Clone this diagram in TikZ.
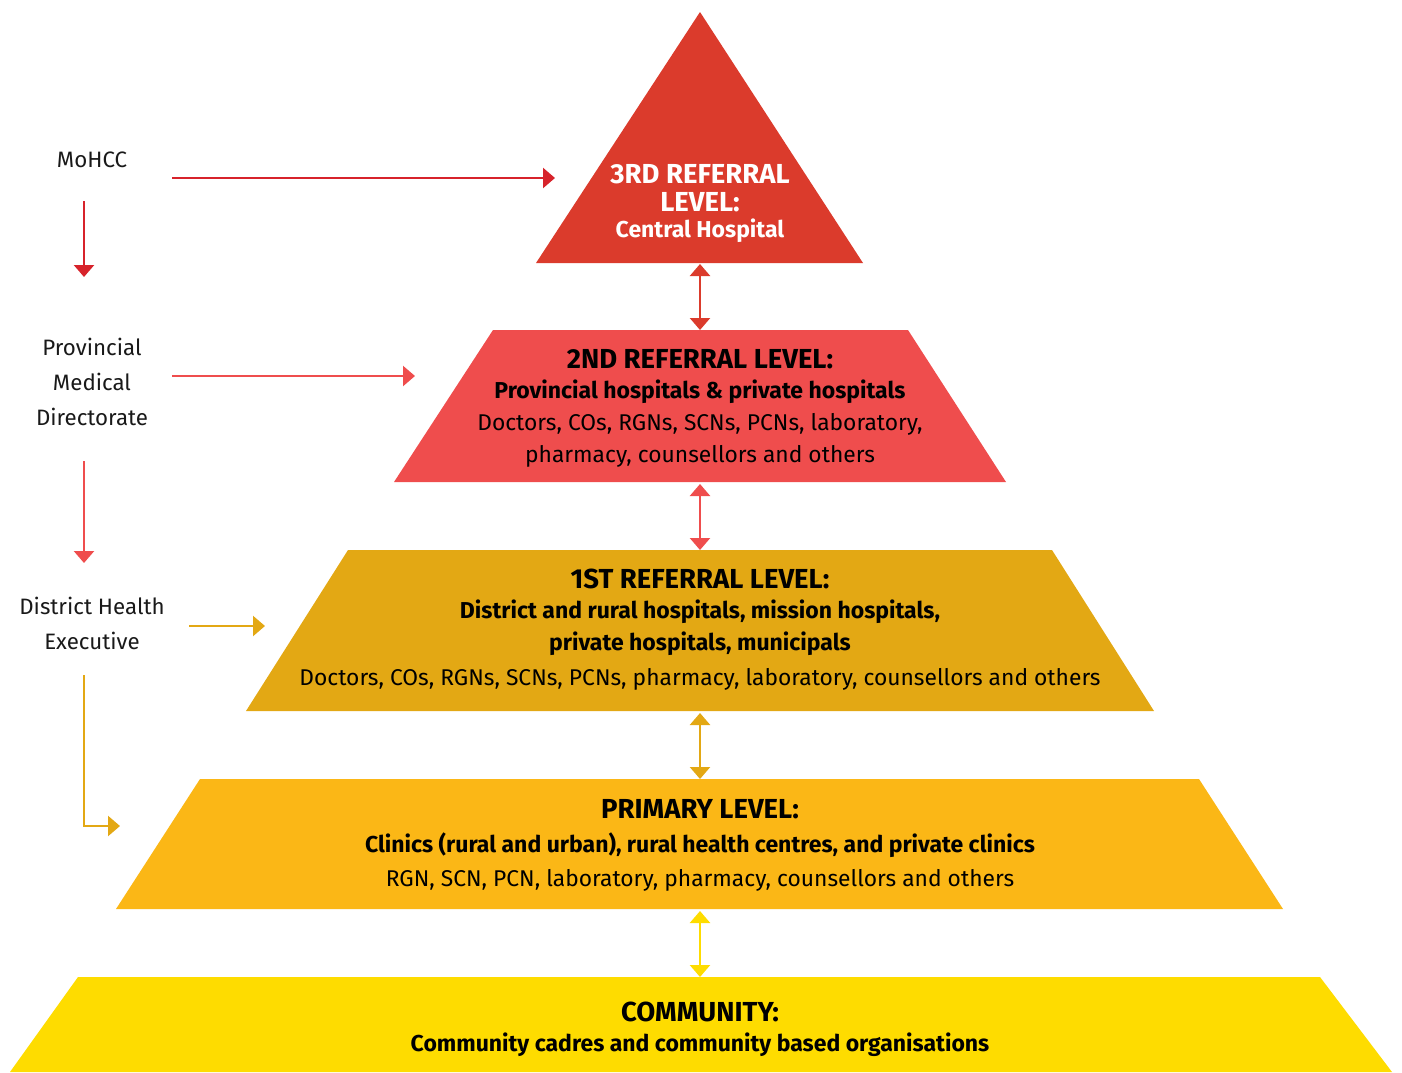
\documentclass[tikz,border=0pt]{standalone}
\usepackage{fontspec}
\setmainfont{Fira Sans}
\usetikzlibrary{arrows.meta}
\definecolor{cThree}{HTML}{DB3B2C}
\definecolor{cTwo}{HTML}{EF4D4D}
\definecolor{cOne}{HTML}{E3A814}
\definecolor{cPrim}{HTML}{FBB716}
\definecolor{cComm}{HTML}{FEDC00}
\definecolor{cArrRed}{HTML}{D7232B}
\tikzset{
  lvl/.style={inner sep=0pt, anchor=center},
  ttl/.style={lvl, font=\fontsize{27.5}{30}\selectfont\bfseries},
  bld/.style={lvl, font=\fontsize{23}{26}\selectfont\bfseries},
  reg/.style={lvl, font=\fontsize{22.8}{26}\selectfont},
  side/.style={lvl, font=\fontsize{22.3}{26}\selectfont, text=black!90},
  arr/.style={line width=2.4pt, -{Triangle[width=20pt,length=12pt]}},
  darr/.style={line width=2.4pt, {Triangle[width=20pt,length=12pt]}-{Triangle[width=20pt,length=12pt]}},
}
\begin{document}
\begin{tikzpicture}[x=1pt,y=-1pt]
\useasboundingbox (0,0) rectangle (1402,1072);
% levels
\fill[cThree] (700,12) -- (863,263) -- (536,263) -- cycle;
\fill[cTwo] (493,330) -- (908,330) -- (1006,482) -- (394,482) -- cycle;
\fill[cOne] (348,550) -- (1052,550) -- (1154,711) -- (246,711) -- cycle;
\fill[cPrim] (200,779) -- (1199,779) -- (1283,909) -- (116,909) -- cycle;
\fill[cComm] (78,977) -- (1320,977) -- (1392,1072) -- (10,1072) -- cycle;
% level anchors
\coordinate (L3b) at (700,264);
\coordinate (L2t) at (700,330);
\coordinate (L2b) at (700,484);
\coordinate (L1t) at (700,550);
\coordinate (L1b) at (700,713);
\coordinate (LPt) at (700,779);
\coordinate (LPb) at (700,911);
\coordinate (LCt) at (700,977);
% texts
\node[ttl, text=white] (t3a) at (700,174) {3RD REFERRAL};
\node[ttl, text=white] (t3b) at (700,202) {LEVEL:};
\node[bld, text=white] (t3c) at (700,231) {Central Hospital};
\node[ttl] (t2a) at (700,359) {2ND REFERRAL LEVEL:};
\node[bld] (t2b) at (700,392) {Provincial hospitals \& private hospitals};
\node[reg] (t2c) at (700,424) {Doctors, COs, RGNs, SCNs, PCNs, laboratory,};
\node[reg] (t2d) at (700,456) {pharmacy, counsellors and others};
\node[ttl] (t1a) at (700,579) {1ST REFERRAL LEVEL:};
\node[bld] (t1b) at (700,612) {District and rural hospitals, mission hospitals,};
\node[bld] (t1c) at (700,644) {private hospitals, municipals};
\node[reg] (t1d) at (700,679) {Doctors, COs, RGNs, SCNs, PCNs, pharmacy, laboratory, counsellors and others};
\node[ttl] (tpa) at (700,809) {PRIMARY LEVEL:};
\node[bld] (tpb) at (700,845) {Clinics (rural and urban), rural health centres, and private clinics};
\node[reg] (tpc) at (700,880) {RGN, SCN, PCN, laboratory, pharmacy, counsellors and others};
\node[ttl] (tca) at (700,1012) {COMMUNITY:};
\node[bld] (tcb) at (700,1045) {Community cadres and community based organisations};
% side labels
\node[side] (moh) at (92,160) {MoHCC};
\node[side] (pmd1) at (92,347) {Provincial};
\node[side] (pmd2) at (92,382) {Medical};
\node[side] (pmd3) at (92,417) {Directorate};
\node[side] (dhe1) at (92,606) {District Health};
\node[side] (dhe2) at (92,641) {Executive};
% side arrow ends
\coordinate (mohR) at (172,178);
\coordinate (mohRe) at (555,178);
\coordinate (mohD) at (84,201);
\coordinate (mohDe) at (84,277);
\coordinate (pmdR) at (172,376);
\coordinate (pmdRe) at (415,376);
\coordinate (pmdD) at (84,461);
\coordinate (pmdDe) at (84,563);
\coordinate (dheR) at (189,626);
\coordinate (dheRe) at (265,626);
\coordinate (dheD) at (84,675);
\coordinate (dheDe) at (120,826);
\draw[arr, cArrRed] (mohR) -- (mohRe);
\draw[arr, cArrRed] (mohD) -- (mohDe);
\draw[arr, cTwo] (pmdR) -- (pmdRe);
\draw[arr, cTwo] (pmdD) -- (pmdDe);
\draw[arr, cOne] (dheR) -- (dheRe);
\draw[arr, cOne] (dheD) |- (dheDe);
% level arrows
\draw[darr, cThree] (L3b) -- (L2t);
\draw[darr, cTwo] (L2b) -- (L1t);
\draw[darr, cOne] (L1b) -- (LPt);
\draw[darr, cComm] (LPb) -- (LCt);
\end{tikzpicture}
\end{document}
